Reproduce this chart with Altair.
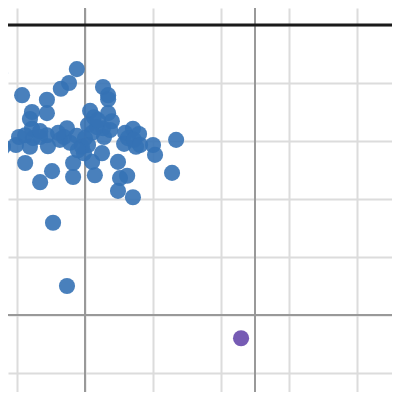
import altair as alt
import pandas as pd

# Blue series (x, y in grid units)
blue_x = [-2.50, -1.85, -0.24, -0.47, -0.71, -1.12, -1.12, -1.56, -1.62, 0.53,
          0.68, 0.68, 0.15, 0.26, 0.68, -2.41, -2.03, -1.94, -1.56, -1.53,
          -1.32, -1.12, -1.09, -1.62, -1.76, -1.32, -0.97, -0.53, -0.62, -0.44,
          -0.24, -0.09, -0.03, -0.35, -0.35, 0.21, 0.29, 0.35, 0.53, 0.56,
          0.50, 0.97, 1.03, 1.24, 0.97, 1.41, 1.18, 1.41, 1.59, 1.15,
          1.50, 2.00, 2.06, 2.68, 2.56, -0.94, -0.53, 0.09, 0.21, 0.00,
          -0.74, 0.09, 0.74, 1.26, 1.44, -1.32, -1.76, -0.21, 0.79, 0.38,
          1.62, -0.79]
blue_y = [4.17, 3.79, 4.24, 4.00, 3.90, 3.71, 3.48, 3.50, 3.38, 3.93,
          3.79, 3.72, 3.52, 3.41, 3.48, 2.90, 2.93, 3.07, 3.21, 3.05,
          3.07, 3.10, 2.91, 2.90, 2.62, 2.29, 2.48, 3.22, 3.07, 2.97,
          3.09, 2.90, 2.79, 2.62, 2.38, 2.64, 2.41, 3.24, 3.22, 3.07,
          2.79, 2.64, 2.36, 2.40, 2.14, 2.03, 3.14, 3.21, 3.12, 2.95,
          2.90, 2.93, 2.76, 3.02, 2.45, 1.59, 0.50, 3.28, 3.14, 3.05,
          3.02, 2.93, 3.19, 3.05, 3.02, 3.17, 3.10, 2.84, 3.34, 3.36,
          2.93, 3.14]

# Purple series
purple_x = [4.59]
purple_y = [-0.40]

grid_x = list(range(-2, 10))
grid_y = list(range(-1, 6))
major_x = [0, 5]
major_y = [0]
limit_y = [5]

x_dom = [-2.2647, 9.0294]
y_dom = [-1.3276, 5.2931]

xs = alt.Scale(domain=x_dom, nice=False, zero=False)
ys = alt.Scale(domain=y_dom, nice=False, zero=False)

ax_x = alt.Axis(values=grid_x, labels=False, ticks=False, domain=False, title=None,
                grid=True, gridColor="#dcdcdc", gridWidth=2)
ax_y = alt.Axis(values=grid_y, labels=False, ticks=False, domain=False, title=None,
                grid=True, gridColor="#dcdcdc", gridWidth=2)

blue_df = pd.DataFrame({"x": blue_x, "y": blue_y})
purple_df = pd.DataFrame({"x": purple_x, "y": purple_y})

base_grid = alt.Chart(pd.DataFrame({"x": [0.0], "y": [0.0]})).mark_point(opacity=0).encode(
    x=alt.X("x:Q", scale=xs, axis=ax_x),
    y=alt.Y("y:Q", scale=ys, axis=ax_y),
)

vlines = alt.Chart(pd.DataFrame({"x": major_x})).mark_rule(color="#999999", strokeWidth=2).encode(
    x=alt.X("x:Q", scale=xs)
)
hlines = alt.Chart(pd.DataFrame({"y": major_y})).mark_rule(color="#999999", strokeWidth=2).encode(
    y=alt.Y("y:Q", scale=ys)
)
limit = alt.Chart(pd.DataFrame({"y": limit_y})).mark_rule(color="#1a1a1a", strokeWidth=3).encode(
    y=alt.Y("y:Q", scale=ys)
)

blue = alt.Chart(blue_df).mark_circle(size=260, color="#3572b5", opacity=0.9, clip=False).encode(
    x=alt.X("x:Q", scale=xs),
    y=alt.Y("y:Q", scale=ys),
)
purple = alt.Chart(purple_df).mark_circle(size=260, color="#6f52b0", opacity=0.95).encode(
    x=alt.X("x:Q", scale=xs),
    y=alt.Y("y:Q", scale=ys),
)

chart = alt.layer(base_grid, vlines, hlines, limit, blue, purple).properties(
    width=384, height=384, padding=0,
    autosize=alt.AutoSizeParams(type="none"),
    background="white",
).configure_view(strokeWidth=0)

chart.save("out.html", embed_options={"renderer": "svg", "actions": False})
